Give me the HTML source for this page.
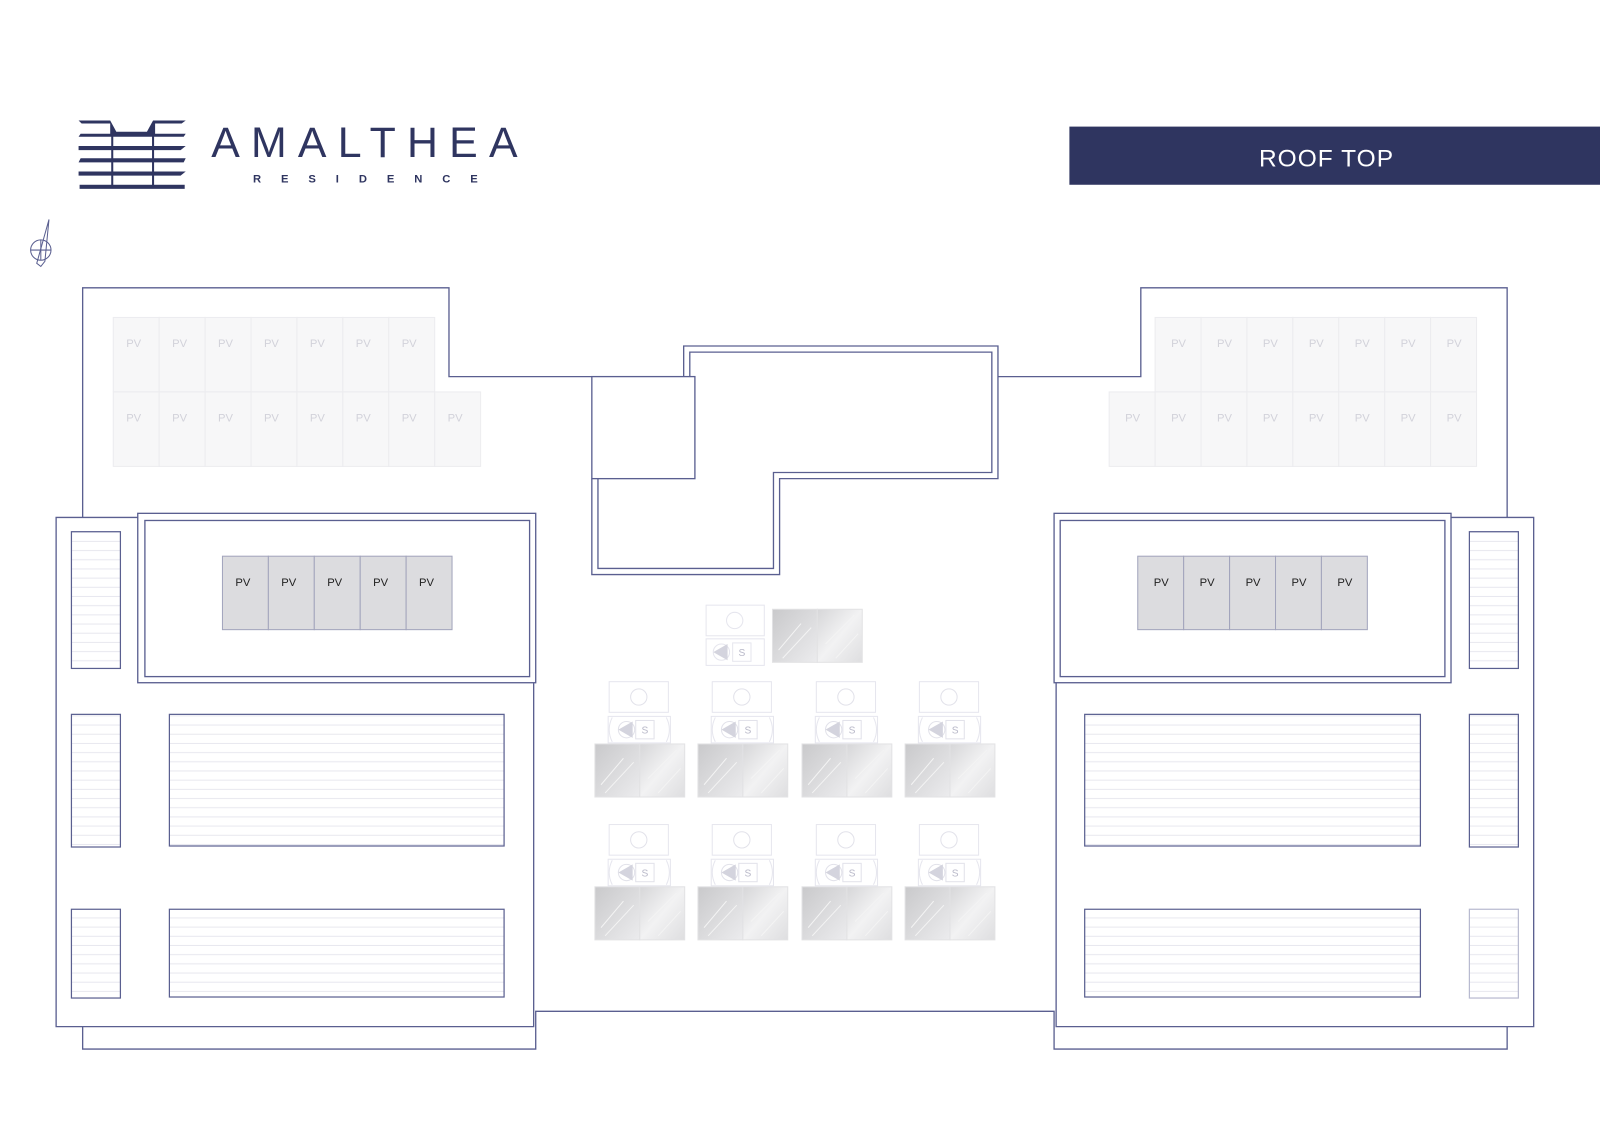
<!DOCTYPE html>
<html><head><meta charset="utf-8"><style>
html,body{margin:0;padding:0;background:#fff;}
svg{display:block;}
</style></head><body>
<svg width="1600" height="1143" viewBox="0 0 1568 1120" xmlns="http://www.w3.org/2000/svg" font-family="Liberation Sans, sans-serif">
<defs>
<pattern id="hat" width="10" height="9" patternUnits="userSpaceOnUse"><rect width="10" height="9" fill="#fff"/><line x1="0" y1="8.5" x2="10" y2="8.5" stroke="#e8e8ef" stroke-width="1"/></pattern>
<linearGradient id="gg" x1="0" y1="0" x2="1" y2="1"><stop offset="0" stop-color="#c9c9cb"/><stop offset="1" stop-color="#ececee"/></linearGradient>
<linearGradient id="gg2" x1="0" y1="0" x2="1" y2="1"><stop offset="0" stop-color="#d6d6d8"/><stop offset="0.5" stop-color="#f2f2f3"/><stop offset="1" stop-color="#dedee0"/></linearGradient>
<g id="glass">
<rect x="0" y="0" width="44" height="52" fill="url(#gg)" stroke="#e2e2e4"/>
<rect x="44" y="0" width="44" height="52" fill="url(#gg2)" stroke="#e2e2e4"/>
<line x1="6" y1="40" x2="28" y2="14" stroke="#f4f4f4"/><line x1="10" y1="48" x2="38" y2="18" stroke="#f4f4f4"/>
<line x1="52" y1="34" x2="80" y2="6" stroke="#f4f4f4"/><line x1="62" y1="48" x2="84" y2="24" stroke="#f4f4f4"/>
</g>
<g id="ac">
<rect x="14" y="-61" width="58" height="30" fill="none" stroke="#e6e6ee"/>
<circle cx="43" cy="-46" r="8" fill="none" stroke="#e2e2ea"/>
<rect x="13" y="-27" width="61" height="26" fill="none" stroke="#e6e6ee"/>
<path d="M17,-26 Q11,-14 17,-2 M70,-26 Q76,-14 70,-2" fill="none" stroke="#e6e6ee"/>
<circle cx="31" cy="-14" r="8" fill="none" stroke="#e2e2ea"/>
<polygon points="37,-22 37,-6 23,-14" fill="#d4d4de"/>
<rect x="40" y="-23" width="18" height="18" fill="none" stroke="#e2e2ea"/>
</g>
</defs>

<g fill="#2f3560" stroke="none">
<polygon points="77,118 108,118 114,129 144,129 150,118 182,118 178,121 152,121 152,131 182,131 180,134 77,134 79,131 108,131 108,121 80,121"/>
<polygon points="77,143 182,143 177,147 77,147"/>
<polygon points="79,155 182,155 180,159 77,159"/>
<polygon points="77,168 182,168 177,172 77,172"/>
<rect x="78" y="181" width="103" height="4"/>
<rect x="109" y="130" width="2" height="53"/><rect x="149" y="130" width="2" height="53"/>
</g>
<text x="207" y="154" font-size="42" fill="#2f3560" letter-spacing="11">AMALTHEA</text>
<text x="248" y="179" font-size="11" font-weight="bold" fill="#2f3560" letter-spacing="19.5">RESIDENCE</text>

<g fill="none" stroke="#5a5f90" stroke-width="1">
<circle cx="40" cy="245" r="10"/><line x1="30" y1="245" x2="50" y2="245"/><line x1="40" y1="235" x2="40" y2="255"/>
<path d="M48,215 L36,258 L40,261 L44,256 Z"/>
</g>

<rect x="1048" y="124" width="520" height="57" fill="#2f3560"/>
<text x="1300" y="163" font-size="24" fill="#fff" text-anchor="middle" letter-spacing="1">ROOF TOP</text>

<g fill="none" stroke="#5a5f90" stroke-width="1.3">
<polyline points="81,507 81,282 440,282 440,369 580,369"/>
<polyline points="978,369 1118,369 1118,282 1477,282 1477,507"/>
<rect x="580" y="369" width="101" height="100"/>
<polyline points="670,369 670,339 978,339 978,469 764,469 764,563 580,563 580,469"/>
<polyline points="676,369 676,345 972,345 972,463 758,463 758,557 586,557 586,469"/>
<polyline points="135,507 55,507 55,1006 523,1006 523,669"/>
<polyline points="81,1006 81,1028 525,1028 525,991 1033,991 1033,1028 1477,1028 1477,1006"/>
<polyline points="1422,507 1503,507 1503,1006 1035,1006 1035,669"/>
<rect x="135" y="503" width="390" height="166"/>
<rect x="142" y="510" width="377" height="153"/>
<rect x="1033" y="503" width="389" height="166"/>
<rect x="1039" y="510" width="377" height="153"/>
</g>

<g stroke="#5a5f90" stroke-width="1.2" fill="url(#hat)">
<rect x="70" y="521" width="48" height="134"/>
<rect x="70" y="700" width="48" height="130"/>
<rect x="70" y="891" width="48" height="87"/>
<rect x="166" y="700" width="328" height="129"/>
<rect x="166" y="891" width="328" height="86"/>
<rect x="1440" y="521" width="48" height="134"/>
<rect x="1440" y="700" width="48" height="130"/>
<rect x="1440" y="891" width="48" height="87" stroke="#b8bad0"/>
<rect x="1063" y="700" width="329" height="129"/>
<rect x="1063" y="891" width="329" height="86"/>
</g>

<g fill="#f7f7f8" stroke="#ececef">
<rect x="111" y="311" width="45" height="73"/><rect x="156" y="311" width="45" height="73"/><rect x="201" y="311" width="45" height="73"/><rect x="246" y="311" width="45" height="73"/><rect x="291" y="311" width="45" height="73"/><rect x="336" y="311" width="45" height="73"/><rect x="381" y="311" width="45" height="73"/>
<rect x="111" y="384" width="45" height="73"/><rect x="156" y="384" width="45" height="73"/><rect x="201" y="384" width="45" height="73"/><rect x="246" y="384" width="45" height="73"/><rect x="291" y="384" width="45" height="73"/><rect x="336" y="384" width="45" height="73"/><rect x="381" y="384" width="45" height="73"/><rect x="426" y="384" width="45" height="73"/>
<rect x="1132" y="311" width="45" height="73"/><rect x="1177" y="311" width="45" height="73"/><rect x="1222" y="311" width="45" height="73"/><rect x="1267" y="311" width="45" height="73"/><rect x="1312" y="311" width="45" height="73"/><rect x="1357" y="311" width="45" height="73"/><rect x="1402" y="311" width="45" height="73"/>
<rect x="1087" y="384" width="45" height="73"/><rect x="1132" y="384" width="45" height="73"/><rect x="1177" y="384" width="45" height="73"/><rect x="1222" y="384" width="45" height="73"/><rect x="1267" y="384" width="45" height="73"/><rect x="1312" y="384" width="45" height="73"/><rect x="1357" y="384" width="45" height="73"/><rect x="1402" y="384" width="45" height="73"/>
</g>
<g font-size="11" fill="#d2d2da" text-anchor="middle">
<text x="131" y="340">PV</text><text x="176" y="340">PV</text><text x="221" y="340">PV</text><text x="266" y="340">PV</text><text x="311" y="340">PV</text><text x="356" y="340">PV</text><text x="401" y="340">PV</text>
<text x="131" y="413">PV</text><text x="176" y="413">PV</text><text x="221" y="413">PV</text><text x="266" y="413">PV</text><text x="311" y="413">PV</text><text x="356" y="413">PV</text><text x="401" y="413">PV</text><text x="446" y="413">PV</text>
<text x="1155" y="340">PV</text><text x="1200" y="340">PV</text><text x="1245" y="340">PV</text><text x="1290" y="340">PV</text><text x="1335" y="340">PV</text><text x="1380" y="340">PV</text><text x="1425" y="340">PV</text>
<text x="1110" y="413">PV</text><text x="1155" y="413">PV</text><text x="1200" y="413">PV</text><text x="1245" y="413">PV</text><text x="1290" y="413">PV</text><text x="1335" y="413">PV</text><text x="1380" y="413">PV</text><text x="1425" y="413">PV</text>
</g>

<g fill="#dcdcdf" stroke="#a2a4bc">
<rect x="218" y="545" width="45" height="72"/><rect x="263" y="545" width="45" height="72"/><rect x="308" y="545" width="45" height="72"/><rect x="353" y="545" width="45" height="72"/><rect x="398" y="545" width="45" height="72"/>
<rect x="1115" y="545" width="45" height="72"/><rect x="1160" y="545" width="45" height="72"/><rect x="1205" y="545" width="45" height="72"/><rect x="1250" y="545" width="45" height="72"/><rect x="1295" y="545" width="45" height="72"/>
</g>
<g font-size="11" fill="#222" text-anchor="middle">
<text x="238" y="574">PV</text><text x="283" y="574">PV</text><text x="328" y="574">PV</text><text x="373" y="574">PV</text><text x="418" y="574">PV</text>
<text x="1138" y="574">PV</text><text x="1183" y="574">PV</text><text x="1228" y="574">PV</text><text x="1273" y="574">PV</text><text x="1318" y="574">PV</text>
</g>

<use href="#glass" x="757" y="597"/>
<g fill="none" stroke="#e6e6ee">
<rect x="692" y="593" width="57" height="30"/><circle cx="720" cy="608" r="8"/>
<rect x="692" y="626" width="57" height="26"/><circle cx="707" cy="639" r="8"/><rect x="718" y="630" width="18" height="18"/>
</g>
<polygon points="713,631 713,647 699,639" fill="#d4d4de"/>

<use href="#glass" x="583" y="729"/><use href="#glass" x="684" y="729"/><use href="#glass" x="786" y="729"/><use href="#glass" x="887" y="729"/>
<use href="#glass" x="583" y="869"/><use href="#glass" x="684" y="869"/><use href="#glass" x="786" y="869"/><use href="#glass" x="887" y="869"/>
<use href="#ac" x="583" y="729"/><use href="#ac" x="684" y="729"/><use href="#ac" x="786" y="729"/><use href="#ac" x="887" y="729"/>
<use href="#ac" x="583" y="869"/><use href="#ac" x="684" y="869"/><use href="#ac" x="786" y="869"/><use href="#ac" x="887" y="869"/>
<g font-size="10" fill="#b8b8c8" text-anchor="middle">
<text x="727" y="643">S</text>
<text x="632" y="719">S</text><text x="733" y="719">S</text><text x="835" y="719">S</text><text x="936" y="719">S</text>
<text x="632" y="859">S</text><text x="733" y="859">S</text><text x="835" y="859">S</text><text x="936" y="859">S</text>
</g>
</svg>
</body></html>
